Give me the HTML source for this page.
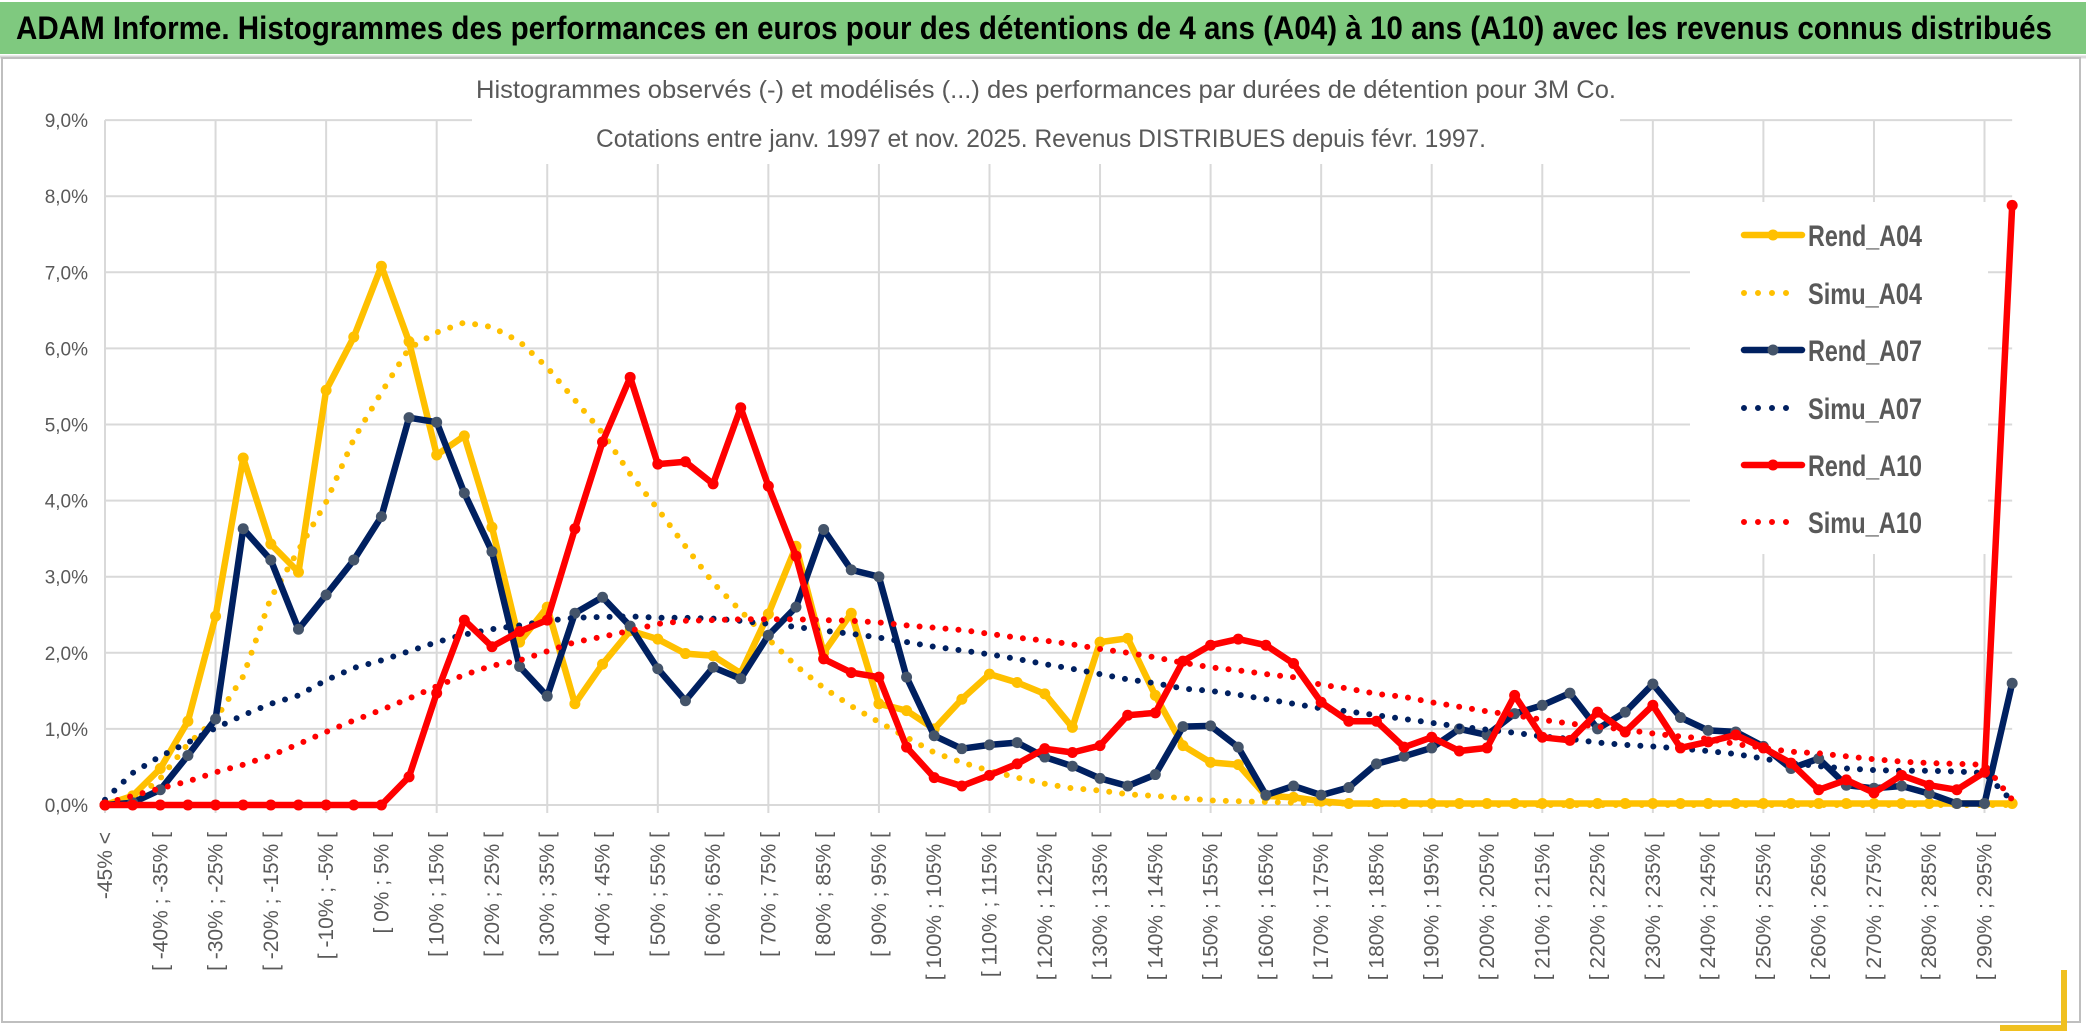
<!DOCTYPE html>
<html><head><meta charset="utf-8"><style>
html,body{margin:0;padding:0;background:#fff;}
svg{display:block;font-family:"Liberation Sans",sans-serif;}
</style></head><body>
<svg id="chart" width="2086" height="1033" viewBox="0 0 2086 1033" xmlns="http://www.w3.org/2000/svg">
<rect x="0" y="0" width="2086" height="1033" fill="#fff"/>
<rect x="0" y="2" width="2086" height="52" fill="#7fc97f"/>
<line x1="0" y1="57" x2="2086" y2="57" stroke="#d9d9d9" stroke-width="3"/>
<text x="16" y="39" font-size="32" font-weight="bold" fill="#000" textLength="2036" lengthAdjust="spacingAndGlyphs">ADAM Informe. Histogrammes des performances en euros pour des détentions de 4 ans (A04) à 10 ans (A10) avec les revenus connus distribués</text>
<rect x="2" y="58" width="2078" height="964" fill="none" stroke="#bfbfbf" stroke-width="2"/>
<path d="M2064 970 V1028 H2000" fill="none" stroke="#f0c020" stroke-width="6"/>
<g id="grid"></g>
<rect x="472" y="72" width="1148" height="92" fill="#fff"/>
<text x="1046" y="98" font-size="25" fill="#595959" text-anchor="middle" textLength="1140" lengthAdjust="spacingAndGlyphs">Histogrammes observés (-) et modélisés (...) des performances par durées de détention pour 3M Co.</text>
<text x="1041" y="147" font-size="25" fill="#595959" text-anchor="middle" textLength="890" lengthAdjust="spacingAndGlyphs">Cotations entre janv. 1997 et nov. 2025. Revenus DISTRIBUES depuis févr. 1997.</text>
<g id="axes"></g>
<rect x="1690" y="202" width="298" height="352" fill="#fff"/>
<g id="series"></g>
<g id="legend"></g>
</svg>
<script>
const categoriesStart = -50;
const categoryCount = 70;
const yTicks = [0,1,2,3,4,5,6,7,8,9];
const rendA04 = [0,0.12,0.48,1.1,2.48,4.56,3.43,3.06,5.45,6.15,
7.08,6.09,4.6,4.85,3.65,2.14,2.6,1.33,1.85,2.29,
2.18,1.99,1.96,1.73,2.51,3.4,2.0,2.52,1.33,1.24,
1.0,1.39,1.72,1.61,1.46,1.02,2.14,2.19,1.44,0.78,
0.56,0.53,0.12,0.1,0.05,0.02,0.02,0.02,0.02,0.02,
0.02,0.02,0.02,0.02,0.02,0.02,0.02,0.02,0.02,0.02,
0.02,0.02,0.02,0.02,0.02,0.02,0.02,0.02,0.02,0.02];
const simuA04 = [0,0.05,0.35,0.8,1.13,1.69,2.72,3.35,3.98,4.81,
5.42,6.0,6.21,6.34,6.28,6.09,5.75,5.32,4.89,4.35,
3.89,3.4,2.92,2.55,2.18,1.83,1.54,1.3,1.09,0.89,
0.69,0.56,0.45,0.36,0.28,0.22,0.19,0.14,0.12,0.09,
0.06,0.05,0.04,0.03,0.02,0.02,0.01,0.01,0,0,
0,0,0,0,0,0,0,0,0,0,
0,0,0,0,0,0,0,0,0,0];
const rendA07 = [0,0.03,0.2,0.65,1.13,3.63,3.22,2.31,2.76,3.22,
3.79,5.09,5.03,4.1,3.33,1.82,1.43,2.52,2.73,2.35,
1.79,1.37,1.81,1.66,2.23,2.6,3.62,3.09,3.0,1.68,
0.91,0.74,0.79,0.82,0.63,0.51,0.35,0.25,0.4,1.03,
1.04,0.76,0.13,0.25,0.13,0.23,0.54,0.64,0.75,1.0,
0.92,1.2,1.31,1.47,1.0,1.22,1.59,1.15,0.98,0.96,
0.77,0.48,0.61,0.26,0.22,0.25,0.15,0.02,0.02,1.6];
const simuA07 = [0.07,0.42,0.64,0.82,1.01,1.18,1.33,1.44,1.64,1.8,
1.9,2.02,2.14,2.24,2.31,2.36,2.42,2.46,2.47,2.48,
2.46,2.46,2.45,2.42,2.38,2.34,2.29,2.25,2.2,2.14,
2.08,2.03,1.98,1.92,1.85,1.79,1.72,1.65,1.6,1.53,
1.5,1.45,1.39,1.33,1.27,1.23,1.18,1.13,1.08,1.03,
0.99,0.95,0.9,0.87,0.82,0.79,0.77,0.74,0.71,0.67,
0.61,0.55,0.51,0.48,0.46,0.45,0.45,0.44,0.42,0.05];
const rendA10 = [0,0,0,0,0,0,0,0,0,0,
0,0.37,1.47,2.43,2.08,2.28,2.43,3.63,4.77,5.62,
4.48,4.51,4.22,5.22,4.19,3.27,1.92,1.74,1.68,0.76,
0.36,0.25,0.39,0.54,0.74,0.69,0.78,1.18,1.21,1.89,
2.1,2.18,2.1,1.86,1.35,1.1,1.1,0.76,0.89,0.71,
0.75,1.44,0.89,0.85,1.22,0.96,1.31,0.75,0.83,0.92,
0.75,0.55,0.2,0.33,0.16,0.39,0.26,0.2,0.43,7.88];
const simuA10 = [0.02,0.12,0.22,0.31,0.43,0.53,0.65,0.8,0.96,1.11,
1.25,1.4,1.56,1.71,1.83,1.9,2.02,2.14,2.21,2.29,
2.38,2.42,2.43,2.44,2.44,2.44,2.43,2.42,2.4,2.36,
2.33,2.3,2.25,2.2,2.16,2.11,2.05,2.0,1.94,1.87,
1.81,1.77,1.72,1.68,1.58,1.53,1.46,1.42,1.35,1.29,
1.23,1.18,1.12,1.07,1.03,0.99,0.94,0.9,0.87,0.8,
0.75,0.7,0.68,0.64,0.6,0.57,0.55,0.54,0.53,0.07];

const NS = "http://www.w3.org/2000/svg";
const X0 = 105, DX = 27.64, Y0 = 805, DY = 76.1;
function xs(i){ return X0 + i*DX; }
function ys(v){ return Y0 - v*DY; }
function mk(tag, attrs, parent){
  const e = document.createElementNS(NS, tag);
  for (const k in attrs) e.setAttribute(k, attrs[k]);
  parent.appendChild(e);
  return e;
}
function catLabel(i){
  if (i === 0) return "-45% <";
  const a = categoriesStart + 5*i;
  return "[ " + a + "% ; " + (a+5) + "% [";
}
const grid = document.getElementById('grid');
const axes = document.getElementById('axes');
const xEnd = xs(categoryCount-1);
yTicks.forEach(t => {
  const l = mk('line', {x1:X0, x2:xEnd, y1:ys(t), y2:ys(t), stroke:'#d9d9d9', 'stroke-width':2}, grid);
  
  
  const tx = mk('text', {x:88, y:ys(t)+7, 'font-size':19, fill:'#595959', 'text-anchor':'end'}, axes);
  tx.textContent = t.toFixed(1).replace('.', ',') + '%';
  
  
});
for (let i = 0; i < categoryCount; i += 4) {
  const l = mk('line', {x1:xs(i), x2:xs(i), y1:ys(9), y2:Y0+8, stroke:'#d9d9d9', 'stroke-width':2}, grid);
  
  
}
for (let i = 0; i < categoryCount - 1; i += 2) {
  const x = xs(i) + 7, y = 832;
  const tx = mk('text', {x:x, y:y, 'font-size':21, fill:'#595959', 'text-anchor':'end', transform:'rotate(-90 '+x+' '+y+')'}, axes);
  tx.textContent = catLabel(i);
  
  
}
const seriesG = document.getElementById('series');
const seriesDefs = [
  {name:'Rend_A04', data:rendA04, color:'#FFC000', marker:'#FFC000', dotted:false},
  {name:'Simu_A04', data:simuA04, color:'#FFC000', dotted:true},
  {name:'Rend_A07', data:rendA07, color:'#002060', marker:'#44546A', dotted:false},
  {name:'Simu_A07', data:simuA07, color:'#002060', dotted:true},
  {name:'Rend_A10', data:rendA10, color:'#FF0000', marker:'#FF0000', dotted:false},
  {name:'Simu_A10', data:simuA10, color:'#FF0000', dotted:true}
];
seriesDefs.forEach(s => {
  const g = mk('g', {}, seriesG);
  
  
  const pts = s.data.map((v,i) => xs(i).toFixed(1) + ',' + ys(v).toFixed(1)).join(' ');
  const pl = mk('polyline', {points:pts, fill:'none', stroke:s.color, 'stroke-width': s.dotted ? 6 : 6.5,
    'stroke-linejoin':'round', 'stroke-linecap':'round'}, g);
  if (s.dotted) pl.setAttribute('stroke-dasharray', '0 13');
  
  
  if (!s.dotted) {
    s.data.forEach((v,i) => {
      const c = mk('circle', {cx:xs(i), cy:ys(v), r:5.5, fill:s.marker}, g);
      
      
    });
  }
});
const leg = document.getElementById('legend');
const legY = [235, 293, 350, 408, 465, 522];
seriesDefs.forEach((s, k) => {
  const g = mk('g', {}, leg);
  
  
  const y = legY[k];
  if (s.dotted) {
    mk('line', {x1:1744, x2:1800, y1:y, y2:y, stroke:s.color, 'stroke-width':6, 'stroke-linecap':'round', 'stroke-dasharray':'0 14'}, g);
  } else {
    mk('line', {x1:1744, x2:1802, y1:y, y2:y, stroke:s.color, 'stroke-width':6.5, 'stroke-linecap':'round'}, g);
    mk('circle', {cx:1773, cy:y, r:5.5, fill:s.marker}, g);
  }
  const t = mk('text', {x:1808, y:y+11, 'font-size':30, 'font-weight':'bold', fill:'#595959', textLength:114, lengthAdjust:'spacingAndGlyphs'}, g);
  t.textContent = s.name;
});
</script>
</body></html>
